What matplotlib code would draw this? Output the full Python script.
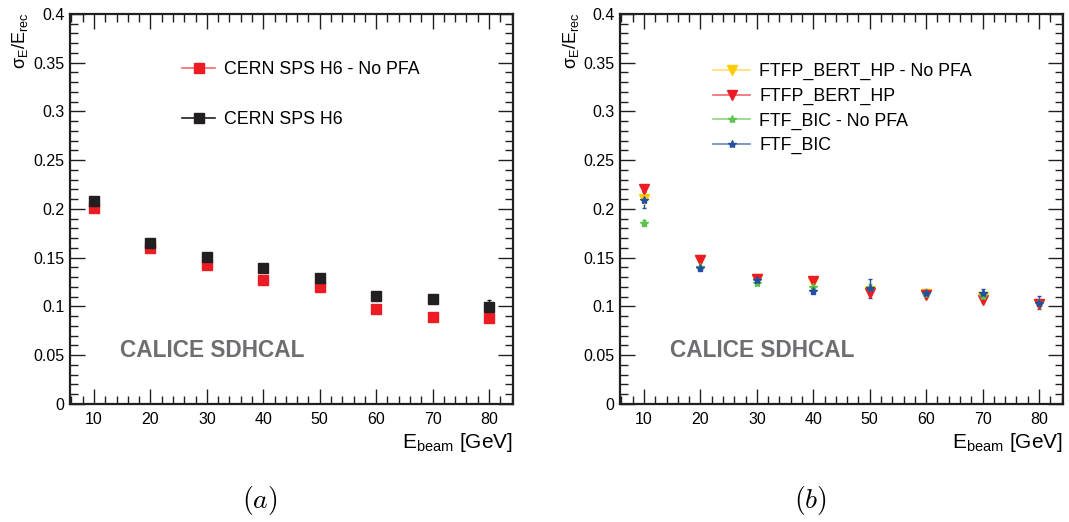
import matplotlib
matplotlib.use("Agg")
import matplotlib.pyplot as plt
from matplotlib.lines import Line2D
from matplotlib.ticker import MultipleLocator, FormatStrFormatter
import numpy as np

plt.rcParams["font.family"] = ["Liberation Sans", "DejaVu Sans"]
plt.rcParams["mathtext.fontset"] = "custom"
plt.rcParams["mathtext.rm"] = "Liberation Sans"
plt.rcParams["mathtext.it"] = "Liberation Sans"
plt.rcParams["mathtext.bf"] = "Liberation Sans:bold"

# beam energies (GeV)
energy = [10, 20, 30, 40, 50, 60, 70, 80]

# (a) data
data_nopfa = [0.201, 0.160, 0.143, 0.127, 0.120, 0.097, 0.089, 0.088]
data_nopfa_err = [0.001, 0.001, 0.001, 0.001, 0.001, 0.001, 0.001, 0.001]
data_pfa = [0.208, 0.165, 0.151, 0.139, 0.129, 0.111, 0.108, 0.0995]
data_pfa_err = [0.002, 0.001, 0.001, 0.001, 0.003, 0.003, 0.004, 0.007]

# (b) simulation
ftfp_nopfa = [0.210, 0.148, 0.128, 0.125, 0.116, 0.113, 0.110, 0.103]
ftfp = [0.221, 0.148, 0.128, 0.126, 0.114, 0.112, 0.107, 0.103]
ftf_nopfa = [0.186, 0.140, 0.124, 0.120, 0.119, 0.113, 0.111, 0.104]
ftf = [0.209, 0.139, 0.127, 0.116, 0.1185, 0.114, 0.114, 0.104]
ftfp_nopfa_err = [0.003, 0.002, 0.002, 0.002, 0.002, 0.002, 0.002, 0.002]
ftfp_err = [0.003, 0.002, 0.002, 0.002, 0.002, 0.002, 0.002, 0.002]
ftf_nopfa_err = [0.003, 0.002, 0.002, 0.003, 0.004, 0.003, 0.003, 0.003]
ftf_err = [0.008, 0.003, 0.003, 0.003, 0.010, 0.004, 0.004, 0.007]

RED = "#ed1c24"
BLACK = "#231f20"
YELLOW = "#ffcc00"
GREEN = "#5ec34a"
BLUE = "#2350a0"
GREY = "#6d6e71"

fig = plt.figure(figsize=(10.69, 5.22), dpi=100)
ax1 = fig.add_axes([0.0655, 0.2261, 0.4144, 0.7471])
ax2 = fig.add_axes([0.580, 0.2261, 0.4144, 0.7471])


def style_axis(ax):
    ax.set_xlim(5.75, 84.25)
    ax.set_ylim(0, 0.4)
    ax.xaxis.set_major_locator(MultipleLocator(10))
    ax.xaxis.set_minor_locator(MultipleLocator(2))
    ax.yaxis.set_major_locator(MultipleLocator(0.05))
    ax.yaxis.set_minor_locator(MultipleLocator(0.01))
    ax.yaxis.set_major_formatter(FormatStrFormatter("%g"))
    ax.tick_params(which="both", direction="in", top=True, right=True,
                   labelsize=11.5, color="#231f20", width=1.0)
    ax.tick_params(which="major", length=11)
    ax.tick_params(which="minor", length=5.5)
    ax.tick_params(axis="x", pad=6)
    ax.tick_params(axis="y", pad=4)
    for s in ax.spines.values():
        s.set_linewidth(1.6)
        s.set_color("#231f20")
    ax.set_xlabel(r"E$_{\mathrm{beam}}$ [GeV]", fontsize=15, ha="right",
                  x=1.0, labelpad=3)
    ax.text(0.113, 0.136, "CALICE SDHCAL", transform=ax.transAxes,
            fontsize=16.3, fontweight="bold", color=GREY, va="center")


# ---- (a)
ax1.errorbar(energy, data_nopfa, yerr=data_nopfa_err, fmt="s", color=RED,
             ms=7.5, capsize=0, elinewidth=1)
ax1.errorbar(energy, data_pfa, yerr=data_pfa_err, fmt="s", color=BLACK,
             ms=7.5, capsize=1.5, elinewidth=1)
h_a = [Line2D([], [], color="#f06870", marker="s", mfc=RED, mec=RED, ms=7.5, lw=1.2),
       Line2D([], [], color=BLACK, marker="s", mfc=BLACK, mec=BLACK, ms=7.5, lw=1.2)]
ax1.legend(h_a, ["CERN SPS H6 - No PFA", "CERN SPS H6"], loc="upper left",
           bbox_to_anchor=(0.252, 0.879), frameon=False, fontsize=12.8,
           labelspacing=1.85, handlelength=1.9, handletextpad=0.5,
           borderaxespad=0, borderpad=0)
style_axis(ax1)

# ---- (b)
ax2.errorbar(energy, ftfp_nopfa, yerr=ftfp_nopfa_err, fmt="v", color=YELLOW,
             ms=7, capsize=1.5, elinewidth=1)
ax2.errorbar(energy, ftfp, yerr=ftfp_err, fmt="v", color=RED,
             ms=7, capsize=1.5, elinewidth=1)
ax2.errorbar(energy, ftf_nopfa, yerr=ftf_nopfa_err, fmt="*", color=GREEN,
             ms=6, capsize=1.5, elinewidth=1)
ax2.errorbar(energy, ftf, yerr=ftf_err, fmt="*", color=BLUE,
             ms=6, capsize=1.5, elinewidth=1)
h_b = [Line2D([], [], color="#ffe070", marker="v", mfc=YELLOW, mec=YELLOW, ms=7, lw=1.2),
       Line2D([], [], color="#f06870", marker="v", mfc=RED, mec=RED, ms=7, lw=1.2),
       Line2D([], [], color="#8fd47f", marker="*", mfc=GREEN, mec=GREEN, ms=6, lw=1.2),
       Line2D([], [], color="#6a86c0", marker="*", mfc=BLUE, mec=BLUE, ms=6, lw=1.2)]
ax2.legend(h_b, ["FTFP_BERT_HP - No PFA", "FTFP_BERT_HP", "FTF_BIC - No PFA", "FTF_BIC"],
           loc="upper left", bbox_to_anchor=(0.21, 0.874), frameon=False,
           fontsize=12.8, labelspacing=0.42, handlelength=2.1, handletextpad=0.5,
           borderaxespad=0, borderpad=0)
style_axis(ax2)

# y titles, ROOT style at the top
for x in (0.019, 0.534):
    fig.text(x, 0.975, r"$\sigma_{E}/E_{rec}$", rotation=90, ha="center",
             va="top", fontsize=13)

fig.text(0.243, 0.042, "$(a)$", fontsize=20, ha="center", va="center",
         math_fontfamily="cm")
fig.text(0.758, 0.042, "$(b)$", fontsize=20, ha="center", va="center",
         math_fontfamily="cm")

fig.savefig("out.png", dpi=100)
